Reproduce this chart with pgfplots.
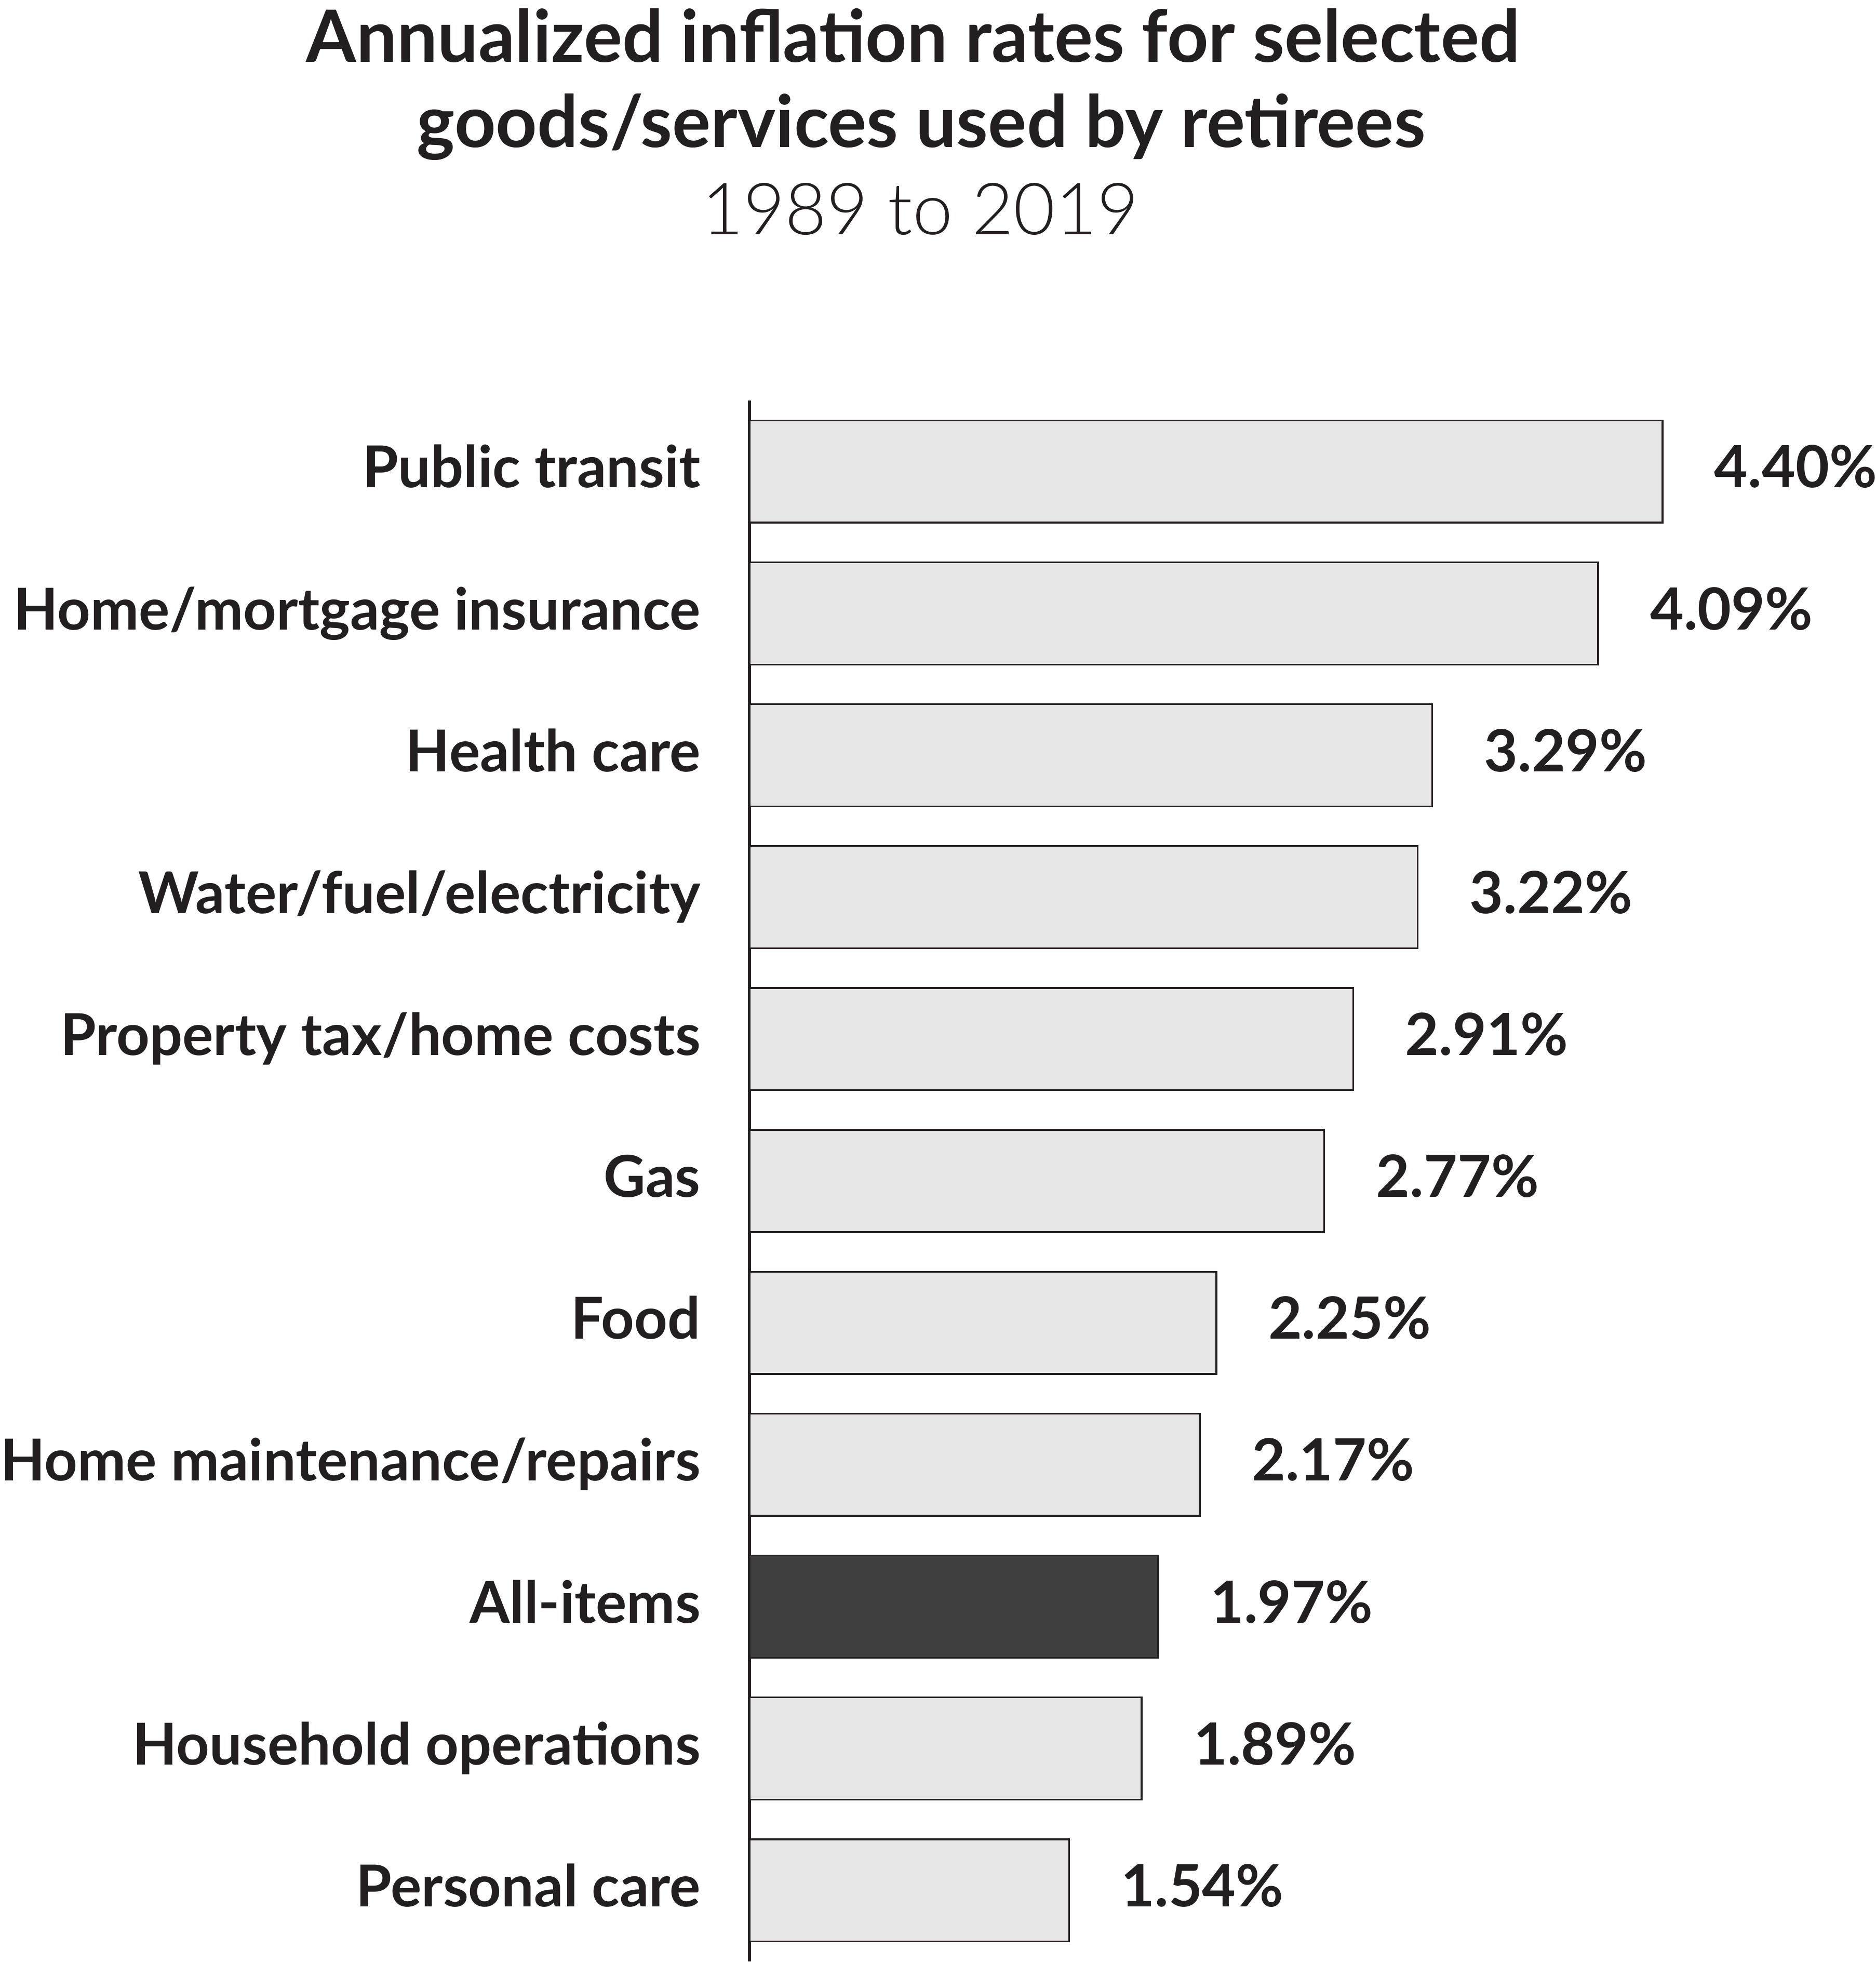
\documentclass[border=0pt]{standalone}
\usepackage{pgfplots}
\pgfplotsset{compat=1.18}
\usepackage{fontspec}
\setmainfont{Lato}
\newfontfamily\lightfont{Lato Light}
\definecolor{ink}{HTML}{231F20}
\definecolor{barfill}{HTML}{E6E6E6}
\definecolor{allfill}{HTML}{404040}

\begin{document}
\begin{tikzpicture}
\useasboundingbox (0,0) rectangle (451.5pt,472.4pt);
% titles
\node[anchor=base, inner sep=0pt, text=ink, font=\fontsize{17.35}{20.75}\selectfont\bfseries]
  at (219.75pt,457.5pt) {Annualized inflation rates for selected};
\node[anchor=base, inner sep=0pt, text=ink, font=\fontsize{17.35}{20.75}\selectfont\bfseries]
  at (221.7pt,437pt) {goods/services used by retirees};
\node[anchor=base, inner sep=0pt, text=ink, font=\fontsize{17.3}{21}\selectfont\lightfont]
  at (221.5pt,416pt) {1989 to 2019};

\begin{axis}[
  at={(180.4pt,0.4pt)}, anchor=south west,
  scale only axis, width=249.7pt, height=375.6pt,
  xbar, bar shift=0pt, bar width=24.6pt,
  xmin=0, xmax=5, ymin=-0.5, ymax=10.5,
  axis x line=none, axis y line=left,
  y axis line style={draw=ink, line width=0.8pt, -},
  ytick={0,...,10},
  yticklabels={Personal care, Household operations, All-items,
    Home maintenance/repairs, Food, Gas, Property tax/home costs,
    Water/fuel/electricity, Health care, Home/mortgage insurance,
    Public transit},
  major tick length=0pt,
  yticklabel style={anchor=base east, inner sep=0pt, xshift=-11.6pt, yshift=-3.9pt,
    font=\fontsize{13.9}{16}\selectfont\bfseries, text=ink},
  nodes near coords={\pgfmathprintnumber[fixed,zerofill,precision=2,assume math mode=true]{\pgfplotspointmeta}\%},
  every node near coord/.append style={anchor=base west, inner sep=0pt,
    xshift=12.3pt, yshift=-3.9pt, font=\fontsize{14}{16}\selectfont\bfseries, text=ink},
  clip=false,
]
\addplot[draw=ink, line width=0.42pt, fill=barfill] coordinates {
  (1.54,0) (1.89,1) (2.17,3) (2.25,4) (2.77,5) (2.91,6)
  (3.22,7) (3.29,8) (4.09,9) (4.40,10)
};
\addplot[draw=ink, line width=0.42pt, fill=allfill] coordinates {
  (1.97,2)
};
\end{axis}
\end{tikzpicture}
\end{document}
